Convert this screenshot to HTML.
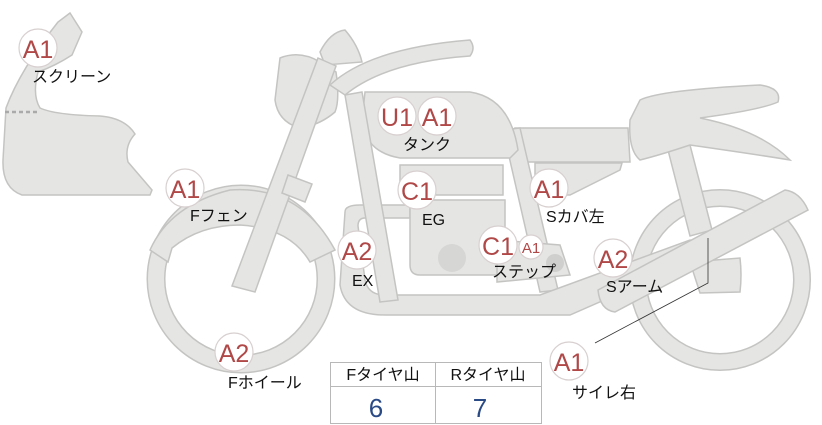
<!DOCTYPE html>
<html><head><meta charset="utf-8"><style>
body{margin:0;background:#fff;width:822px;height:425px;overflow:hidden}
svg{display:block}
.p{fill:#e5e5e3;stroke:#c4c4c2;stroke-width:1.5}
.b{fill:#fff;stroke:#d8d0d0;stroke-width:1.2}
.bt{font-family:"Liberation Sans",sans-serif;font-size:25px;fill:#b04848;text-anchor:middle}
.l{font-family:"Liberation Sans","Noto Sans CJK JP",sans-serif;font-size:16px;fill:#111}
</style></head><body>
<svg width="822" height="425" viewBox="0 0 822 425" xmlns="http://www.w3.org/2000/svg">
<path class="p" d="M70,13 L82,32 L72,55 Q55,66 38,72 Q32,95 40,108 Q55,115 100,116 Q125,118 135,134 Q124,146 128,162 L152,190 L150,195 L22,195 Q2,188 3,160 L6,108 Q20,70 58,22 Z"/>
<line x1="5" y1="112" x2="40" y2="112" stroke="#aaa" stroke-width="2.5" stroke-dasharray="4,3"/>
<circle cx="241" cy="279" r="85" fill="none" stroke="#c4c4c2" stroke-width="19"/>
<circle cx="241" cy="279" r="85" fill="none" stroke="#e5e5e3" stroke-width="16"/>
<path class="p" d="M150,250 Q170,205 230,190 Q300,185 335,250 L310,262 Q290,228 240,225 Q200,225 172,248 L168,262 Z"/>
<circle cx="720" cy="280" r="82" fill="none" stroke="#c4c4c2" stroke-width="18"/>
<circle cx="720" cy="280" r="82" fill="none" stroke="#e5e5e3" stroke-width="15"/>
<path class="p" d="M668,150 L690,145 L712,230 L690,236 Z"/>
<path class="p" d="M515,128 L628,128 L630,162 L515,162 Z"/>
<path class="p" d="M535,163 L622,163 L620,170 L570,195 L535,195 Z"/>
<path class="p" d="M640,100 Q660,90 760,85 Q782,88 778,102 Q760,110 700,118 Q760,130 790,160 Q760,155 690,145 Q660,155 640,160 Q628,150 630,120 Z"/>
<path class="p" d="M503,130 L520,128 L558,290 L540,292 Z"/>
<path class="p" d="M345,212 Q345,205 360,205 L410,205 L410,218 L365,218 Q358,218 358,226 L365,280 Q368,295 385,295 L540,295 L690,240 L700,258 L570,315 L385,315 Q345,315 340,285 Z"/>
<path class="p" d="M690,262 L740,258 Q742,275 740,292 L700,293 Z"/>
<path class="p" d="M598,290 L785,190 Q800,192 808,210 L615,312 Q600,310 598,290 Z"/>
<path class="p" d="M410,200 L505,200 L505,275 L420,275 Q410,275 410,265 Z"/>
<circle cx="452" cy="258" r="14" fill="#d6d6d4"/>
<path class="p" d="M400,165 L503,165 L503,195 L400,195 Z"/>
<path class="p" d="M497,240 L560,245 L570,275 L497,282 Z"/>
<circle cx="555" cy="263" r="9" fill="#cfcfcd"/>
<path class="p" d="M365,92 L470,92 Q510,98 518,150 L510,158 L400,158 Q365,152 362,120 Z"/>
<path class="p" d="M345,95 L362,92 L398,300 L380,302 Z"/>
<path class="p" d="M280,58 Q300,50 320,62 L336,72 Q340,100 335,112 Q320,125 300,128 Q278,122 275,100 Z"/>
<path class="p" d="M320,52 Q330,32 345,30 Q358,45 362,62 L325,65 Z"/>
<path class="p" d="M330,85 Q370,48 470,40 Q476,48 470,56 Q385,62 345,95 Z"/>
<path class="p" d="M318,58 L336,66 L255,292 L232,286 Z"/>
<path class="p" d="M288,175 L312,184 L305,202 L282,193 Z"/>
<path d="M708,238 L708,283 L595,343" fill="none" stroke="#333" stroke-width="0.8"/>
<g>
<circle class="b" cx="38" cy="48" r="19"/><text class="bt" x="38" y="58">A1</text>
<circle class="b" cx="397" cy="116" r="19"/><text class="bt" x="397" y="126">U1</text>
<circle class="b" cx="437" cy="116" r="19"/><text class="bt" x="437" y="126">A1</text>
<circle class="b" cx="185" cy="188" r="19"/><text class="bt" x="185" y="198">A1</text>
<circle class="b" cx="417" cy="190" r="19"/><text class="bt" x="417" y="200">C1</text>
<circle class="b" cx="549" cy="188" r="19"/><text class="bt" x="549" y="198">A1</text>
<circle class="b" cx="357" cy="250" r="19"/><text class="bt" x="357" y="260">A2</text>
<circle class="b" cx="498" cy="245" r="19"/><text class="bt" x="498" y="255">C1</text>
<circle class="b" cx="531" cy="247" r="12"/><text class="bt" x="531" y="253" style="font-size:15px">A1</text>
<circle class="b" cx="613" cy="258" r="19"/><text class="bt" x="613" y="268">A2</text>
<circle class="b" cx="234" cy="352" r="19"/><text class="bt" x="234" y="362">A2</text>
<circle class="b" cx="569" cy="361" r="19"/><text class="bt" x="569" y="371">A1</text>
</g>
<text class="l" x="32" y="82">スクリーン</text>
<text class="l" x="403" y="150">タンク</text>
<text class="l" x="190" y="221">Fフェン</text>
<text class="l" x="422" y="225">EG</text>
<text class="l" x="546" y="222">Sカバ左</text>
<text class="l" x="352" y="286">EX</text>
<text class="l" x="492" y="277">ステップ</text>
<text class="l" x="606" y="292">Sアーム</text>
<text class="l" x="228" y="388">Fホイール</text>
<text class="l" x="572" y="398">サイレ右</text>
<rect x="330.5" y="362.5" width="211" height="61" fill="#fff" stroke="#b8b8b8"/>
<line x1="330" y1="386.5" x2="542" y2="386.5" stroke="#b8b8b8"/>
<line x1="435.5" y1="362" x2="435.5" y2="424" stroke="#b8b8b8"/>
<text class="l" x="383" y="380" text-anchor="middle">Fタイヤ山</text>
<text class="l" x="488" y="380" text-anchor="middle">Rタイヤ山</text>
<text x="376" y="417" text-anchor="middle" font-family="Liberation Sans,sans-serif" font-size="26" fill="#2a4a85">6</text>
<text x="480" y="417" text-anchor="middle" font-family="Liberation Sans,sans-serif" font-size="26" fill="#2a4a85">7</text>
</svg>
</body></html>
